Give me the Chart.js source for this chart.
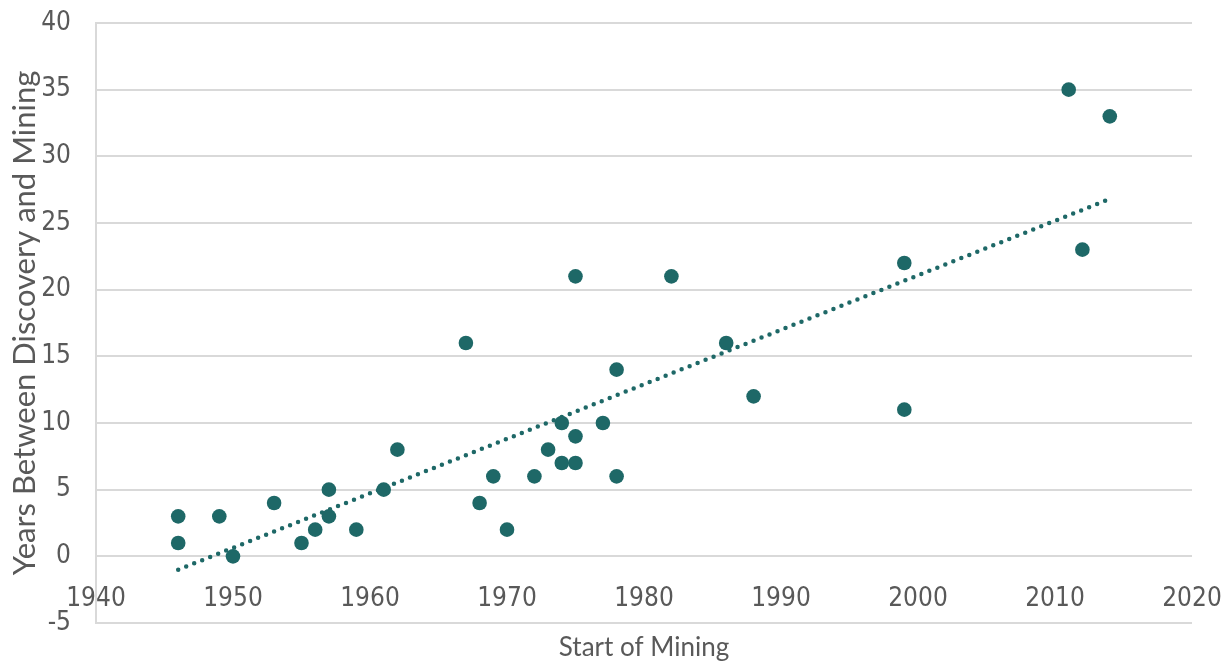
<!DOCTYPE html>
<html>
<head>
<meta charset="utf-8">
<script src="https://cdn.jsdelivr.net/npm/chart.js@4.4.1/dist/chart.umd.min.js"></script>
<style>
  html, body { margin: 0; padding: 0; background: #fff; }
  #wrap { width: 1231px; height: 666px; }
</style>
</head>
<body>
<div id="wrap"><canvas id="Chart" width="1231" height="666"></canvas></div>
<script>
// start year of mining and years between discovery and start
const startYear = [
  1946, 1946, 1949, 1950, 1953, 1955, 1956, 1957, 1957, 1959,
  1961, 1962, 1967, 1968, 1969, 1970, 1972, 1973, 1974, 1974,
  1975, 1975, 1975, 1977, 1978, 1978, 1982, 1986, 1988, 1999,
  1999, 2011, 2012, 2014,
];
const yearsGap = [
  3, 1, 3, 0, 4, 1, 2, 3, 5, 2,
  5, 8, 16, 4, 6, 2, 6, 8, 10, 7,
  9, 7, 21, 10, 14, 6, 21, 16, 12, 22,
  11, 35, 23, 33,
];

// linear trendline ends
const trendYears = [1946, 2014];
const trendGap = [-1, 26.8];

const xTicks = [1940, 1950, 1960, 1970, 1980, 1990, 2000, 2010, 2020];

const teal = "rgb(30, 104, 103)";
const textGray = "#595959";
const gridGray = "#d9d9d9";
const clear = "rgba(0,0,0,0)";
const tickFont = "'Liberation Sans Narrow', 'DejaVu Sans Condensed', sans-serif";
const titleFont = "Lato, 'Open Sans', sans-serif";

const points = startYear.map((yr, i) => ({ x: yr, y: yearsGap[i] }));
const trend = trendYears.map((yr, i) => ({ x: yr, y: trendGap[i] }));

const data = {
  datasets: [
    {
      label: "Trend",
      data: trend,
      showLine: true,
      borderColor: teal,
      borderWidth: 4.5,
      borderDash: [0, 8.6],
      borderCapStyle: "round",
      pointRadius: 0,
      order: 2,
    },
    {
      label: "Mines",
      data: points,
      backgroundColor: teal,
      borderWidth: 0,
      pointRadius: 7.3,
      pointHoverRadius: 7.3,
      order: 1,
    },
  ],
};

const config = {
  type: "scatter",
  data: data,
  options: {
    responsive: false,
    animation: false,
    layout: { padding: { top: 23, right: 39, left: 0, bottom: 0 } },
    plugins: {
      legend: { display: false },
      tooltip: { enabled: false },
    },
    scales: {
      x: {
        type: "linear",
        position: "bottom",
        min: 1940,
        max: 2020,
        grid: { display: false },
        border: { display: false },
        ticks: { display: false },
        title: {
          display: true,
          text: "Start of Mining",
          color: textGray,
          font: { family: titleFont, size: 26 },
          padding: { top: 0, bottom: 3 },
        },
        afterFit: (scale) => {
          scale.height = 43;
        },
      },
      // year labels sit on the zero line
      // (gap made with an invisible tick mark so it doesn't pad the layout)
      x2: {
        type: "linear",
        position: { y: 0 },
        min: 1940,
        max: 2020,
        grid: {
          drawOnChartArea: false,
          drawTicks: true,
          tickLength: 27,
          tickColor: clear,
          color: clear,
        },
        border: { display: false },
        afterBuildTicks: (scale) => {
          scale.ticks = xTicks.map((v) => ({ value: v }));
        },
        ticks: {
          color: textGray,
          padding: 0,
          maxRotation: 0,
          font: { family: tickFont, size: 26 },
          callback: (v) => String(v),
        },
      },
      y: {
        min: -5,
        max: 40,
        grid: {
          color: gridGray,
          lineWidth: 2,
          drawTicks: true,
          tickLength: 25,
          tickColor: clear,
        },
        border: { display: true, color: gridGray, width: 2 },
        ticks: {
          stepSize: 5,
          color: textGray,
          padding: 0,
          font: { family: tickFont, size: 26 },
        },
        title: {
          display: true,
          text: "Years Between Discovery and Mining",
          color: textGray,
          font: { family: titleFont, size: 31 },
          padding: { top: 6, bottom: 0 },
        },
        afterFit: (scale) => {
          scale.width = 96;
        },
      },
    },
  },
};

// RENDERING THE GRAPH
const myChart = new Chart(document.getElementById("Chart"), config);
</script>
</body>
</html>
